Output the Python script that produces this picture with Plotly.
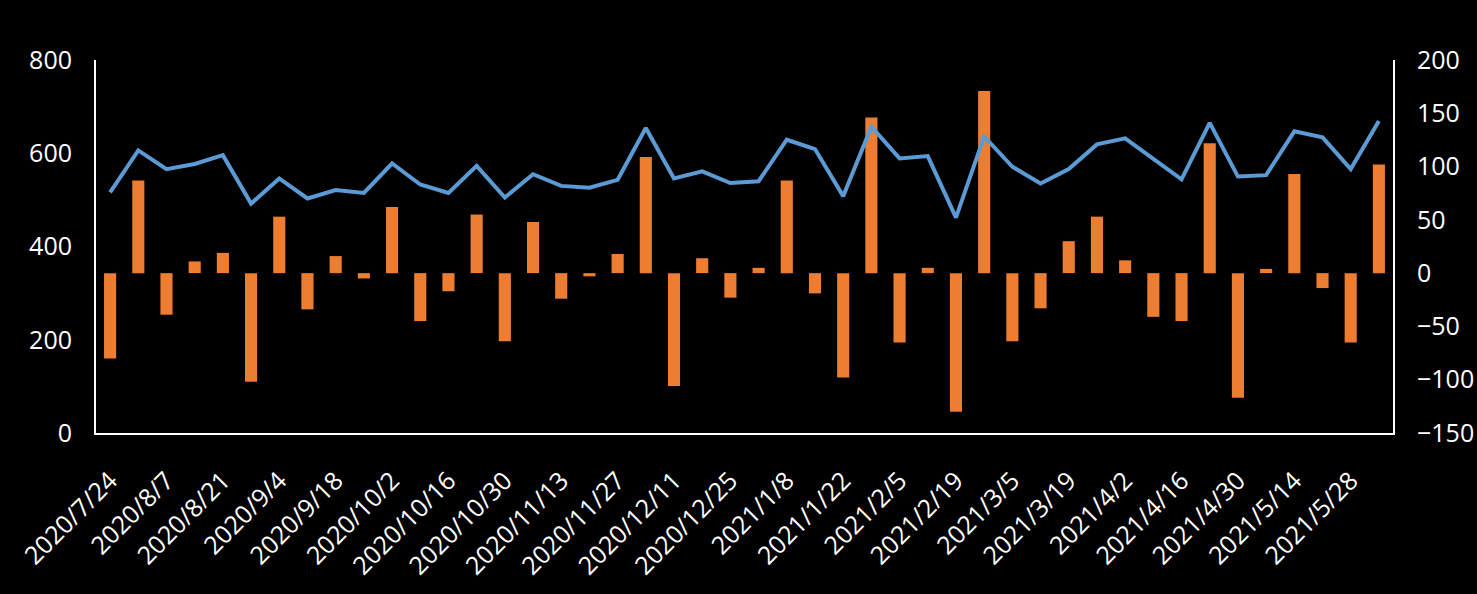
import plotly.graph_objects as go

dates = ["2020/7/24", "2020/7/31", "2020/8/7", "2020/8/14", "2020/8/21", "2020/8/28",
         "2020/9/4", "2020/9/11", "2020/9/18", "2020/9/25", "2020/10/2", "2020/10/9",
         "2020/10/16", "2020/10/23", "2020/10/30", "2020/11/6", "2020/11/13", "2020/11/20",
         "2020/11/27", "2020/12/4", "2020/12/11", "2020/12/18", "2020/12/25", "2021/1/1",
         "2021/1/8", "2021/1/15", "2021/1/22", "2021/1/29", "2021/2/5", "2021/2/12",
         "2021/2/19", "2021/2/26", "2021/3/5", "2021/3/12", "2021/3/19", "2021/3/26",
         "2021/4/2", "2021/4/9", "2021/4/16", "2021/4/23", "2021/4/30", "2021/5/7",
         "2021/5/14", "2021/5/21", "2021/5/28", "2021/6/4"]

# line series (left axis, 0-800)
level = [516, 606, 566, 577, 596, 492, 546, 503, 521, 515, 578, 533,
         515, 573, 505, 555, 530, 526, 543, 654, 546, 561, 536, 540,
         629, 609, 508, 657, 589, 594, 462, 636, 571, 535, 566, 619,
         632, 589, 544, 665, 550, 553, 647, 634, 566, 669]

# bar series (right axis, -150-200)
change = [-80, 87, -39, 11, 19, -102, 53, -34, 16, -5, 62, -45,
          -17, 55, -64, 48, -24, -3, 18, 109, -106, 14, -23, 5,
          87, -19, -98, 146, -65, 5, -130, 171, -64, -33, 30, 53,
          12, -41, -45, 122, -117, 4, 93, -14, -65, 102]

tick_labels = dates[::2][:23]

font = dict(family="Open Sans, Calibri, sans-serif", color="white", size=25)

fig = go.Figure()
fig.add_trace(go.Bar(x=dates, y=change, marker=dict(color="#ED7D31", line=dict(width=0)),
                     yaxis="y", showlegend=False))
fig.add_trace(go.Scatter(x=dates, y=level, mode="lines",
                         line=dict(color="#5B9BD5", width=4),
                         yaxis="y2", showlegend=False))

fig.update_layout(
    width=1477, height=594,
    paper_bgcolor="black", plot_bgcolor="black",
    margin=dict(l=96, r=84, t=60, b=161),
    bargap=0.57,
    font=font,
    xaxis=dict(type="category", tickmode="array", tickvals=tick_labels, ticktext=tick_labels,
               tickangle=-45, showgrid=False, showline=True, linecolor="white", linewidth=2,
               ticks="", tickfont=dict(size=25, color="white"), ticklabelstandoff=21,
               automargin=False),
    yaxis=dict(side="right", range=[-150, 200], dtick=50, tick0=0, showgrid=False,
               zeroline=False, showline=True, linecolor="white", linewidth=2,
               ticks="", tickfont=dict(size=25, color="white"), ticklabelstandoff=17,
               automargin=False),
    yaxis2=dict(side="left", overlaying="y", range=[0, 800], dtick=200, showgrid=False,
                zeroline=False, showline=True, linecolor="white", linewidth=2,
                ticks="", tickfont=dict(size=25, color="white"), ticklabelstandoff=17,
                automargin=False),
)

fig.write_html("out.html", config={"displayModeBar": False},
               post_script="document.body.style.margin='0';document.body.style.background='black';")
